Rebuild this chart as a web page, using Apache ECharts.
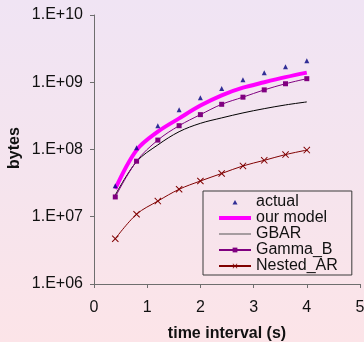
<!DOCTYPE html>
<html>
<head>
<meta charset="utf-8">
<script src="https://cdn.jsdelivr.net/npm/echarts@6/dist/echarts.min.js"></script>
<style>
html,body{margin:0;padding:0;}
body{background:linear-gradient(to bottom,#F0E4F4 0%,#F5E4EE 50%,#FCE4E8 100%);}
#chart{width:364px;height:342px;}
</style>
</head>
<body>
<div id="chart"></div>
<script>
// ---- data ----
var timeInterval = [0.4, 0.8, 1.2, 1.6, 2.0, 2.4, 2.8, 3.2, 3.6, 4.0];
var actual   = [2.9e7, 1.06e8, 2.26e8, 3.9e8, 5.9e8, 8.1e8, 1.09e9, 1.39e9, 1.7e9, 2.09e9];
var ourModel = [2.6e7, 9.8e7, 1.84e8, 2.9e8, 4.5e8, 6.4e8, 8.3e8, 1.0e9, 1.19e9, 1.39e9];
var gbar     = [2.1e7, 6.6e7, 1.17e8, 1.84e8, 2.45e8, 2.95e8, 3.5e8, 4.05e8, 4.6e8, 5.1e8];
var gammaB   = [1.97e7, 6.7e7, 1.38e8, 2.26e8, 3.3e8, 4.7e8, 6.0e8, 7.7e8, 9.5e8, 1.13e9];
var nestedAR = [4.7e6, 1.09e7, 1.71e7, 2.56e7, 3.4e7, 4.4e7, 5.7e7, 6.9e7, 8.4e7, 9.8e7];
var seriesNames = ['actual', 'our model', 'GBAR', 'Gamma_B', 'Nested_AR'];
var yTickLabels = ['1.E+06', '1.E+07', '1.E+08', '1.E+09', '1.E+10'];
var xTickLabels = ['0', '1', '2', '3', '4', '5'];
var xTitle = 'time interval (s)';
var yTitle = 'bytes';

function pairs(ys) { return timeInterval.map(function (x, i) { return [x, ys[i]]; }); }

var FONT = '"Liberation Sans", Arial, sans-serif';
var AXIS_COLOR = '#6e6e6e';
var X_MARK = 'path://M0,1 L1,0 L5,4 L9,0 L10,1 L6,5 L10,9 L9,10 L5,6 L1,10 L0,9 L4,5 Z';
var TRI_LEGEND = 'path://M0,0 M32,6 M13.5,5.5 L16,1 L18.5,5.5 Z';
var THICK_LINE_LEGEND = 'path://M0,0 M32,6 M0,1 L32,1 L32,5 L0,5 Z';
var THIN_LINE_LEGEND = 'path://M0,0 M32,6 M0,2.5 L32,2.5 L32,3.5 L0,3.5 Z';

var chart = echarts.init(document.getElementById('chart'), null, {renderer: 'canvas'});
chart.setOption({
  backgroundColor: 'transparent',
  animation: false,
  grid: {left: 94, right: 4, top: 15, bottom: 58, containLabel: false, outerBoundsMode: 'none'},
  xAxis: {
    type: 'value', min: 0, max: 5, interval: 1,
    axisLine: {show: true, onZero: false, lineStyle: {color: AXIS_COLOR, width: 1}},
    axisTick: {show: true, inside: false, length: 4, lineStyle: {color: AXIS_COLOR}},
    splitLine: {show: false},
    axisLabel: {margin: 16, fontSize: 16, fontFamily: FONT, color: '#111',
      formatter: function (v) { return xTickLabels[Math.round(v)]; }}
  },
  yAxis: {
    type: 'log', logBase: 10, min: 1e6, max: 1e10, splitNumber: 4,
    axisLine: {show: true, lineStyle: {color: AXIS_COLOR, width: 1}},
    axisTick: {show: true, inside: false, length: 4, lineStyle: {color: AXIS_COLOR}},
    splitLine: {show: false},
    axisLabel: {margin: 11, fontSize: 16, fontFamily: FONT, color: '#111',
      formatter: function (v) { return yTickLabels[Math.round(Math.log10(v)) - 6]; }}
  },
  legend: {
    orient: 'vertical', left: 203, top: 191,
    padding: [3, 14, 1, 15],
    itemWidth: 32, itemHeight: 6, itemGap: 0,
    borderColor: '#3a3a3a', borderWidth: 1,
    textStyle: {fontSize: 16, fontFamily: FONT, color: '#111', lineHeight: 16},
    data: [
      {name: seriesNames[0], icon: TRI_LEGEND},
      {name: seriesNames[1], icon: THICK_LINE_LEGEND},
      {name: seriesNames[2], icon: THIN_LINE_LEGEND, itemStyle: {color: '#555555'}},
      seriesNames[3], seriesNames[4]
    ]
  },
  series: [
    {name: seriesNames[1], type: 'line', data: pairs(ourModel), smooth: 0.35,
      symbol: 'none', lineStyle: {color: '#FF00FF', width: 4}, itemStyle: {color: '#FF00FF'}, z: 3},
    {name: seriesNames[2], type: 'line', data: pairs(gbar), smooth: 0.35,
      symbol: 'none', lineStyle: {color: '#000000', width: 1}, itemStyle: {color: '#000000'}, z: 2},
    {name: seriesNames[3], type: 'line', data: pairs(gammaB), smooth: 0.35,
      symbol: 'rect', symbolSize: 5, lineStyle: {color: '#800080', width: 1}, itemStyle: {color: '#800080'}, z: 2},
    {name: seriesNames[4], type: 'line', data: pairs(nestedAR), smooth: 0.35,
      symbol: X_MARK, symbolSize: 7, lineStyle: {color: '#800000', width: 1}, itemStyle: {color: '#800000'}, z: 2},
    {name: seriesNames[0], type: 'scatter', data: pairs(actual),
      symbol: 'triangle', symbolSize: [5, 5], itemStyle: {color: '#000080'}, z: 4}
  ],
  graphic: [
    {type: 'text', x: 15, y: 148, rotation: Math.PI / 2,
      style: {text: yTitle, font: 'bold 16px ' + FONT, fill: '#111', textAlign: 'center', textVerticalAlign: 'middle'}},
    {type: 'text', x: 227, y: 334,
      style: {text: xTitle, font: 'bold 16px ' + FONT, fill: '#111', textAlign: 'center', textVerticalAlign: 'middle'}}
  ]
});
</script>
</body>
</html>
